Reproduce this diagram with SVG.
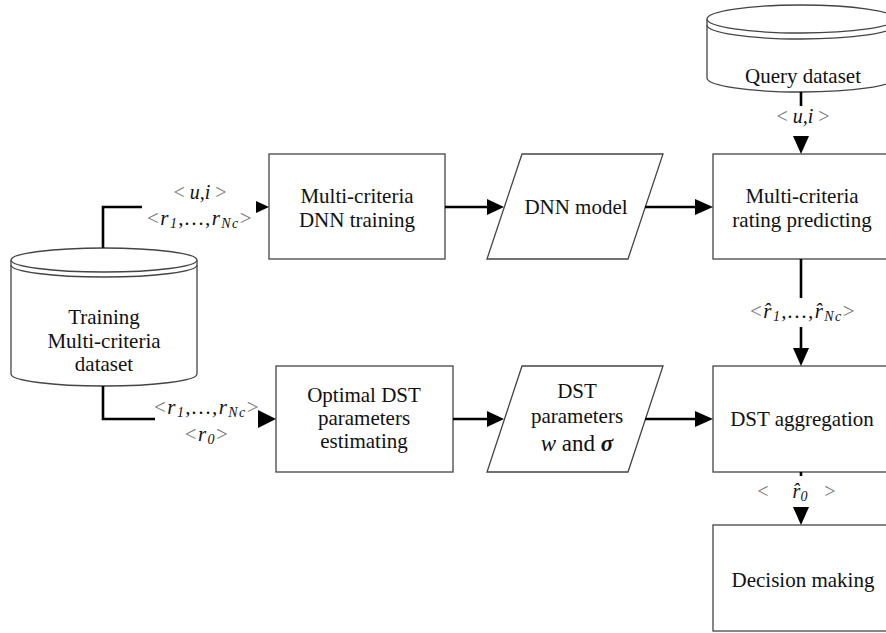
<svg xmlns="http://www.w3.org/2000/svg" width="886" height="633" viewBox="0 0 886 633">
<style>
.box{fill:#fff;stroke:#444;stroke-width:1.3}
text{font-family:'Liberation Serif','DejaVu Serif',serif}
.t{font-size:21px;text-anchor:middle;fill:#111}
.m{font-size:20px;font-style:italic;text-anchor:middle;fill:#111}
.w{font-size:21px;letter-spacing:1.4px}
.rel{font-style:normal;fill:#777}
.sub{font-size:14px}
.ln{fill:none;stroke:#000;stroke-width:2.6}
.hd{fill:#000}
</style>
<rect width="886" height="633" fill="#fff"/>

<g id="training-dataset">
<path class="box" d="M11,260 L11,374 A93,12 0 0 0 197,374 L197,260"/>
<ellipse class="box" cx="104" cy="260" rx="93" ry="12"/>
<path class="box" style="fill:none" d="M11,265 A93,12 0 0 0 197,265"/>
<text class="t" x="104" y="324">Training</text>
<text class="t" x="104" y="348">Multi-criteria</text>
<text class="t" x="104" y="371">dataset</text>
</g>

<g id="query-dataset">
<path class="box" d="M707,19 L707,78 A94,14 0 0 0 895,78 L895,19"/>
<ellipse class="box" cx="801" cy="19" rx="94" ry="14"/>
<path class="box" style="fill:none" d="M707,25 A94,14 0 0 0 895,25"/>
<text class="t" x="803" y="83">Query dataset</text>
</g>

<g id="dnn-training">
<rect class="box" x="269" y="154" width="176" height="105"/>
<text class="t" x="357" y="203">Multi-criteria</text>
<text class="t" x="357" y="227">DNN training</text>
</g>

<g id="dnn-model">
<polygon class="box" points="522,154 663,154 628,259 487,259"/>
<text class="t" x="576" y="214">DNN model</text>
</g>

<g id="rating-predicting">
<rect class="box" x="713" y="154" width="176" height="105"/>
<text class="t" x="802" y="203">Multi-criteria</text>
<text class="t" x="802" y="227">rating predicting</text>
</g>

<g id="dst-estimating">
<rect class="box" x="276" y="366" width="177" height="106"/>
<text class="t" x="364" y="402">Optimal DST</text>
<text class="t" x="364" y="425">parameters</text>
<text class="t" x="364" y="448">estimating</text>
</g>

<g id="dst-parameters">
<polygon class="box" points="522,366 663,366 628,472 487,472"/>
<text class="t" x="577" y="398">DST</text>
<text class="t" x="577" y="423">parameters</text>
<text class="t" x="577" y="451" style="font-size:23px"><tspan font-style="italic">w</tspan> and <tspan font-style="italic" font-weight="bold">σ</tspan></text>
</g>

<g id="dst-aggregation">
<rect class="box" x="713" y="366" width="176" height="106"/>
<text class="t" x="802" y="426">DST aggregation</text>
</g>

<g id="decision-making">
<rect class="box" x="713" y="525" width="176" height="106"/>
<text class="t" x="803" y="587">Decision making</text>
</g>

<g id="connectors">
<polyline class="ln" points="103,248 103,207 142,207"/>
<polygon class="hd" points="256,201 269,207 256,213"/>
<polyline class="ln" points="103,386 103,419 155,419"/>
<polygon class="hd" points="258,410 276,419 258,428"/>
<line class="ln" x1="445" y1="207" x2="489" y2="207"/>
<polygon class="hd" points="487,199 504,207 487,215"/>
<line class="ln" x1="645" y1="207" x2="697" y2="207"/>
<polygon class="hd" points="695,199 713,207 695,215"/>
<line class="ln" x1="453" y1="419" x2="489" y2="419"/>
<polygon class="hd" points="487,411 504,419 487,427"/>
<line class="ln" x1="645" y1="419" x2="697" y2="419"/>
<polygon class="hd" points="695,411 713,419 695,427"/>
<line class="ln" x1="801" y1="92" x2="801" y2="106"/>
<polygon class="hd" points="793,136 809,136 801,154"/>
<line class="ln" x1="801" y1="259" x2="801" y2="298"/>
<line class="ln" x1="801" y1="327" x2="801" y2="350"/>
<polygon class="hd" points="793,348 809,348 801,366"/>
<line class="ln" x1="801" y1="472" x2="801" y2="476"/>
<polygon class="hd" points="793,507 809,507 801,525"/>
</g>

<g id="labels">
<text class="m" x="200" y="199"><tspan class="rel">&lt;</tspan> u,i <tspan class="rel">&gt;</tspan></text>
<text class="m w" x="200" y="225"><tspan class="rel">&lt;</tspan>r<tspan class="sub" dy="3">1</tspan><tspan dy="-3">,…,r</tspan><tspan class="sub" dy="3">Nc</tspan><tspan class="rel" dy="-3">&gt;</tspan></text>
<text class="m w" x="207" y="414"><tspan class="rel">&lt;</tspan>r<tspan class="sub" dy="3">1</tspan><tspan dy="-3">,…,r</tspan><tspan class="sub" dy="3">Nc</tspan><tspan class="rel" dy="-3">&gt;</tspan></text>
<text class="m w" x="207" y="441"><tspan class="rel">&lt;</tspan>r<tspan class="sub" dy="3">0</tspan><tspan class="rel" dy="-3">&gt;</tspan></text>
<text class="m" x="803" y="123"><tspan class="rel">&lt;</tspan> u,i <tspan class="rel">&gt;</tspan></text>
<text class="m w" x="803" y="318"><tspan class="rel">&lt;</tspan>r̂<tspan class="sub" dy="3">1</tspan><tspan dy="-3">,…,r̂</tspan><tspan class="sub" dy="3">Nc</tspan><tspan class="rel" dy="-3">&gt;</tspan></text>
<text class="m" x="763" y="498"><tspan class="rel">&lt;</tspan></text>
<text class="m" x="800" y="498">r̂<tspan class="sub" dy="3">0</tspan></text>
<text class="m" x="830" y="498"><tspan class="rel">&gt;</tspan></text>
</g>
</svg>
